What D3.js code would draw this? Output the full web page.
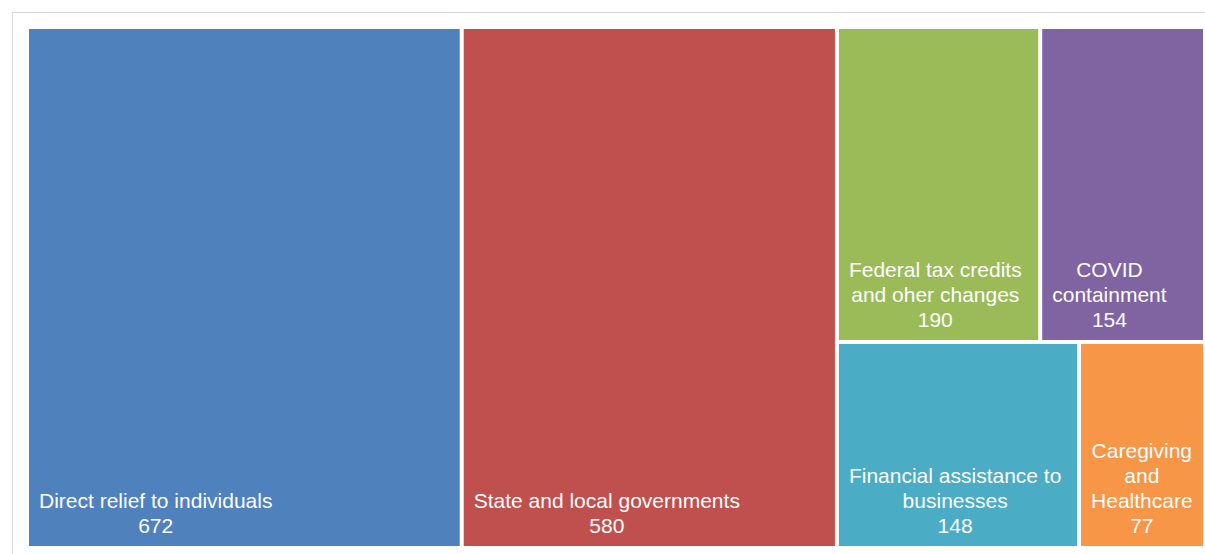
<!DOCTYPE html>
<html>
<head>
<meta charset="utf-8">
<script src="https://cdn.jsdelivr.net/npm/d3@7"></script>
<style>
  body { margin: 0; background: #fff; }
  #chart { width: 1205px; height: 554px; }
  .label { font-family: "Liberation Sans", Arial, sans-serif; font-size: 21px; fill: #fff; }
</style>
</head>
<body>
<div id="chart"></div>
<script>
// data
const categories = ["Direct relief to individuals", "State and local governments",
  "Federal tax credits and oher changes", "COVID containment",
  "Financial assistance to businesses", "Caregiving and Healthcare"];
const values = [672, 580, 190, 154, 148, 77];
const colors = ["#4f81bd", "#c0504d", "#9bbb59", "#8064a2", "#4bacc6", "#f79646"];

const width = 1205, height = 554;
const margin = {top: 29, left: 29, right: 2, bottom: 8};

const svg = d3.select("#chart").append("svg")
    .attr("width", width)
    .attr("height", height);

// chart area border
svg.append("rect")
    .attr("x", 12.5).attr("y", 12.5)
    .attr("width", width).attr("height", height)
    .attr("fill", "none")
    .attr("stroke", "#d9d9d9");

const root = d3.hierarchy({children: categories.map((c, i) => ({name: c, value: values[i], color: colors[i]}))})
    .sum(d => d.value || 0)
    .sort((a, b) => b.value - a.value);

d3.treemap()
    .tile(d3.treemapSquarify)
    .size([width - margin.left - margin.right, height - margin.top - margin.bottom])
    .paddingInner(4)
    (root);

const cell = svg.append("g")
    .attr("transform", `translate(${margin.left},${margin.top})`)
  .selectAll("g")
  .data(root.leaves())
  .join("g")
    .attr("transform", d => `translate(${d.x0},${d.y0})`);

cell.append("rect")
    .attr("width", d => d.x1 - d.x0)
    .attr("height", d => d.y1 - d.y0)
    .attr("fill", d => d.data.color);

const lineH = 25;

cell.each(function(d) {
  const g = d3.select(this);
  const w = d.x1 - d.x0, h = d.y1 - d.y0;
  const maxW = w - 16;

  // wrap words to fit the cell
  const probe = g.append("text").attr("class", "label");
  const words = d.data.name.split(" ");
  const lines = [];
  let cur = "";
  words.forEach(wd => {
    const test = cur ? cur + " " + wd : wd;
    probe.text(test);
    if (probe.node().getComputedTextLength() > maxW && cur) {
      lines.push(cur);
      cur = wd;
    } else {
      cur = test;
    }
  });
  lines.push(cur);
  lines.push(String(d.data.value));

  // block width = widest line
  let blockW = 0;
  lines.forEach(l => {
    probe.text(l);
    blockW = Math.max(blockW, probe.node().getComputedTextLength());
  });
  probe.remove();

  const cx = 10 + blockW / 2;
  const lastBase = h - 13;
  const t = g.append("text")
      .attr("class", "label")
      .attr("text-anchor", "middle");
  lines.forEach((l, i) => {
    t.append("tspan")
        .attr("x", cx)
        .attr("y", lastBase - (lines.length - 1 - i) * lineH)
        .text(l);
  });
});
</script>
</body>
</html>
